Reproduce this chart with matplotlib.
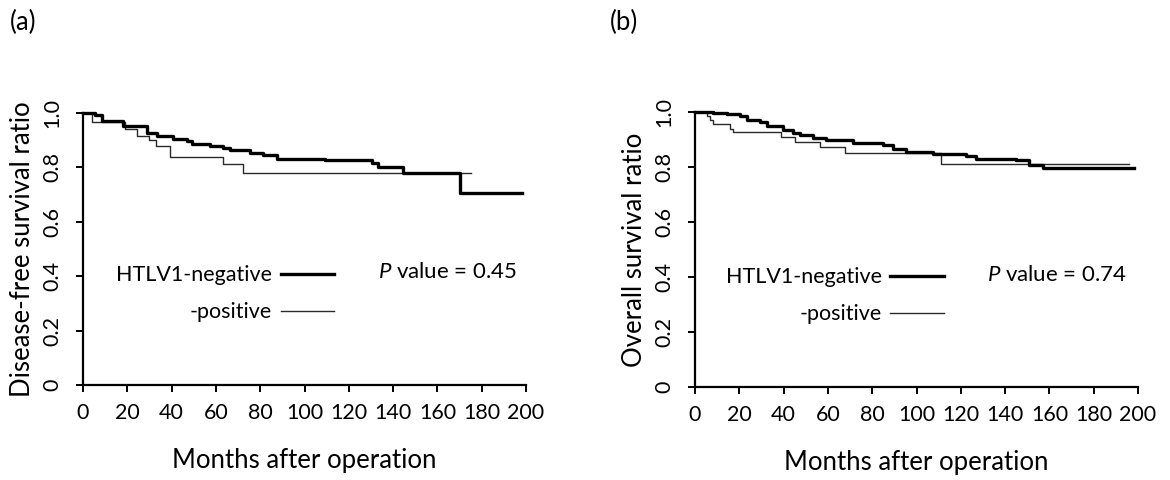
import matplotlib
matplotlib.use("Agg")
import matplotlib.pyplot as plt

plt.rcParams['font.family'] = ['Lato', 'DejaVu Sans']
plt.rcParams['mathtext.fontset'] = 'custom'
plt.rcParams['mathtext.it'] = 'Lato:italic'
plt.rcParams['mathtext.rm'] = 'Lato'

# Panel (a): disease-free survival
a_neg_t = [0, 5.4, 8.4, 18.2, 28.7, 33.3, 40.8, 46.8, 49, 57.3, 63.3, 66.4, 75.4, 81.4, 87.4, 109.3, 130.3, 133.3, 144.6, 170.2, 198]
a_neg_s = [1.0, 0.993, 0.971, 0.953, 0.928, 0.916, 0.904, 0.897, 0.885, 0.879, 0.870, 0.864, 0.854, 0.844, 0.832, 0.826, 0.817, 0.800, 0.778, 0.706, 0.706]
a_pos_t = [0, 4, 19, 24.5, 30, 33, 39.3, 63.3, 72.4, 175]
a_pos_s = [1.0, 0.968, 0.94, 0.916, 0.901, 0.879, 0.84, 0.811, 0.778, 0.778]

# Panel (b): overall survival
b_neg_t = [0, 8.3, 14.3, 20.3, 23.3, 29.3, 32.3, 39.8, 44.3, 47.3, 53.3, 59.3, 71.3, 84.8, 89.3, 95.3, 107.3, 122.3, 126.8, 144.9, 150.9, 156.9, 198]
b_neg_s = [1.0, 0.996, 0.993, 0.984, 0.972, 0.962, 0.950, 0.936, 0.924, 0.915, 0.905, 0.897, 0.889, 0.881, 0.865, 0.853, 0.848, 0.841, 0.829, 0.824, 0.808, 0.796, 0.796]
b_pos_t = [0, 5.3, 6.8, 8.3, 15.8, 17.3, 39, 45, 56.3, 67.6, 111.1, 196]
b_pos_s = [1.0, 0.984, 0.970, 0.957, 0.939, 0.926, 0.909, 0.892, 0.873, 0.851, 0.812, 0.812]

x_ticks = list(range(0, 201, 20))
y_ticks = [0, 0.2, 0.4, 0.6, 0.8, 1.0]
y_tick_labels = ["0", "0.2", "0.4", "0.6", "0.8", "1.0"]

fig = plt.figure(figsize=(11.7, 4.8), dpi=100)
ax_a = fig.add_axes([83/1170, 1-385/480, 443/1170, 272/480])
ax_b = fig.add_axes([695/1170, 1-387/480, 443/1170, 275/480])

panels = [
    (ax_a, a_neg_t, a_neg_s, a_pos_t, a_pos_s, "Disease-free survival ratio", "0.45", "(a)", 10/1170, 0.592, 0.48, 0.665, 0.415),
    (ax_b, b_neg_t, b_neg_s, b_pos_t, b_pos_s, "Overall survival ratio", "0.74", "(b)", 610/1170, 0.587, 0.475, 0.659, 0.407),
]

for ax, nt, ns, pt, ps, ylab, pval, tag, tagx, lx, ly, px, py in panels:
    ax.step(pt, ps, where='post', color='#2a2a2a', lw=1.0, clip_on=False, label='-positive', zorder=3)
    ax.step(nt, ns, where='post', color='black', lw=2.4, clip_on=False, label='HTLV1-negative', zorder=4)
    ax.set_xlim(0, 200)
    ax.set_ylim(0, 1.0)
    for s in ['top', 'right']:
        ax.spines[s].set_visible(False)
    for s in ['left', 'bottom']:
        ax.spines[s].set_linewidth(1.6)
    ax.set_xticks(x_ticks)
    ax.set_xticklabels([str(v) for v in x_ticks], fontsize=15.5)
    ax.set_yticks(y_ticks)
    ax.set_yticklabels(y_tick_labels, fontsize=15.5, rotation=90, va='center')
    ax.tick_params(axis='x', direction='out', length=5, width=1.4, pad=8)
    ax.tick_params(axis='y', direction='out', length=5, width=1.4, pad=10)
    ax.set_xlabel("Months after operation", fontsize=18.5, labelpad=18)
    ax.set_ylabel(ylab, fontsize=18.5, labelpad=5)
    h, l = ax.get_legend_handles_labels()
    ax.legend(h[::-1], l[::-1], markerfirst=False, frameon=False, fontsize=15.5,
              loc='upper right', bbox_to_anchor=(lx, ly), borderpad=0,
              handlelength=2.5, handletextpad=0.4, labelspacing=0.8)
    ax.text(px, py, r"$\it{P}$ value = " + pval, transform=ax.transAxes,
            fontsize=16, ha='left', va='center')
    fig.text(tagx, 1-22/480, tag, fontsize=18.5, ha='left', va='center')

fig.savefig("out.png", dpi=100)
